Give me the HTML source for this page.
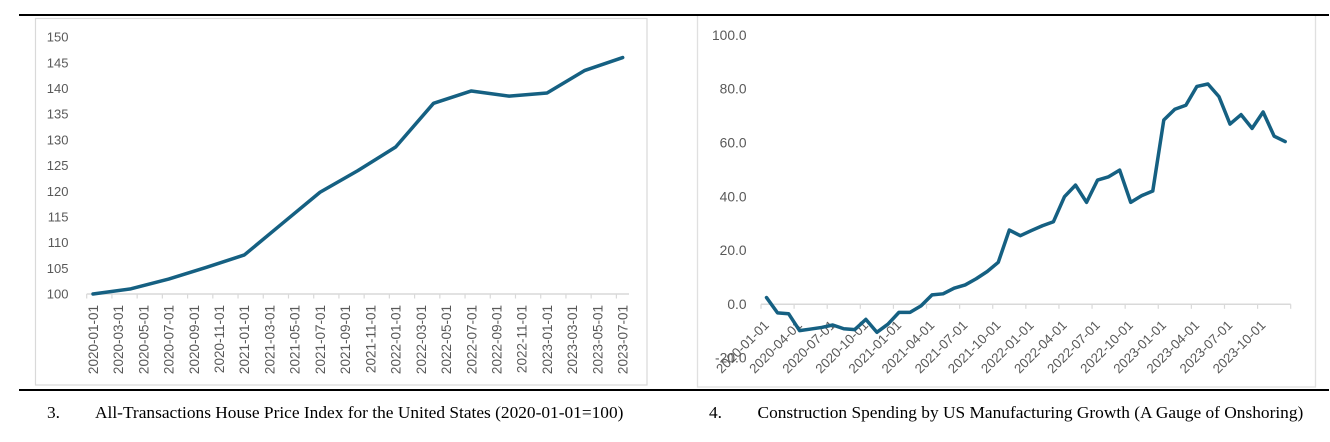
<!DOCTYPE html>
<html lang="en">
<head>
<meta charset="utf-8">
<title>House Price Index and Construction Spending Charts</title>
<style>
html,body{margin:0;padding:0;background:#fff;width:1330px;height:442px;overflow:hidden}
svg{display:block}
.tick{font-family:"Liberation Sans",sans-serif;font-size:13.5px;fill:#595959}
.tick-y1{font-family:"Liberation Sans",sans-serif;font-size:13px;fill:#595959}
.tick2{font-family:"Liberation Sans",sans-serif;font-size:13.8px;fill:#595959}
.tick3{font-family:"Liberation Sans",sans-serif;font-size:13.3px;fill:#595959}
.cap{font-family:"Liberation Serif",serif;font-size:17.35px;fill:#000}
</style>
</head>
<body>
<svg id="figure" xmlns="http://www.w3.org/2000/svg" width="1330" height="442" viewBox="0 0 1330 442">
  <rect x="35.5" y="18.5" width="611.5" height="366.5" fill="#fff" stroke="#d9d9d9" stroke-width="1.2"/>
  <rect x="697.5" y="10" width="618" height="377" fill="#fff" stroke="#e0e0e0" stroke-width="1.3"/>
  <rect x="0" y="0" width="1330" height="14" fill="#fff"/>
  <rect x="19" y="14" width="1310" height="2" fill="#000"/>
  <rect x="19" y="389" width="1310" height="2" fill="#000"/>
  <g id="hpi-chart"></g>
  <g id="construction-chart"></g>
  <text class="cap" x="47" y="418">3.</text>
  <text class="cap" x="95" y="418">All-Transactions House Price Index for the United States (2020-01-01=100)</text>
  <text class="cap" x="709" y="418">4.</text>
  <text class="cap" x="757.5" y="418">Construction Spending by US Manufacturing Growth (A Gauge of Onshoring)</text>
</svg>
<script>
// ---- House price index data (quarterly) ----
const hpiDates = ["2020-01","2020-04","2020-07","2020-10","2021-01","2021-04","2021-07","2021-10","2022-01","2022-04","2022-07","2022-10","2023-01","2023-04","2023-07"];
const hpiValues = [100,101,102.9,105.2,107.6,113.7,119.8,124,128.6,137.1,139.5,138.5,139.1,143.5,146];
const hpiYTicks = [100,105,110,115,120,125,130,135,140,145,150];
const hpiXLabels = ["2020-01-01","2020-03-01","2020-05-01","2020-07-01","2020-09-01","2020-11-01","2021-01-01","2021-03-01","2021-05-01","2021-07-01","2021-09-01","2021-11-01","2022-01-01","2022-03-01","2022-05-01","2022-07-01","2022-09-01","2022-11-01","2023-01-01","2023-03-01","2023-05-01","2023-07-01"];

// ---- Construction spending growth data (monthly, 2020-01 onward) ----
const conValues = [2.5,-3.2,-3.5,-9.8,-9.2,-8.6,-7.7,-9.1,-9.4,-5.6,-10.4,-7.4,-3,-3,-0.6,3.5,3.9,6,7.2,9.5,12.2,15.6,27.6,25.5,27.4,29.2,30.7,40,44.3,37.9,46.2,47.4,49.9,37.9,40.4,42.1,68.5,72.5,74,81,81.9,77.2,67,70.5,65.4,71.5,62.5,60.5];
const conYTicks = [-20,0,20,40,60,80,100];
const conXLabels = ["2020-01-01","2020-04-01","2020-07-01","2020-10-01","2021-01-01","2021-04-01","2021-07-01","2021-10-01","2022-01-01","2022-04-01","2022-07-01","2022-10-01","2023-01-01","2023-04-01","2023-07-01","2023-10-01"];

const NS = "http://www.w3.org/2000/svg";
function monthIndex(s){
  const p = s.split("-");
  return (parseInt(p[0],10)-2020)*12 + parseInt(p[1],10)-1;
}
function make(tag, parent, attrs){
  const el = document.createElementNS(NS, tag);
  for (const k in attrs) el.setAttribute(k, attrs[k]);
  parent.appendChild(el);
  return el;
}
const LINE = "#156082", AXIS = "#d9d9d9";

// ---- Chart 3: house price index ----
(function(){
  const g = document.getElementById("hpi-chart");
  const left = 86.7, right = 629, base = 294, top = 37;
  const nCats = monthIndex(hpiDates[hpiDates.length-1]) + 1;
  const band = (right-left)/nCats;
  const x = i => left + band*(i+0.5);
  const yMin = hpiYTicks[0], yMax = hpiYTicks[hpiYTicks.length-1];
  const y = v => base - (v-yMin)/(yMax-yMin)*(base-top);

  const axis = make("line", g, {x1:left,x2:right,y1:base,y2:base,stroke:AXIS,"stroke-width":1.5});
  
  

  hpiYTicks.forEach(v => {
    const t = make("text", g, {class:"tick-y1",x:68.5,y:y(v)+4.6,"text-anchor":"end"});
    t.textContent = String(v);
    
    
  });
  hpiXLabels.forEach(lbl => {
    const i = monthIndex(lbl);
    const tk = make("line", g, {x1:x(i)-band/2,x2:x(i)-band/2,y1:base,y2:base+4.5,stroke:AXIS,"stroke-width":1.2});
    
    
    const t = make("text", g, {class:"tick","text-anchor":"end",transform:"translate("+(x(i)+4.9)+",305) rotate(-90)"});
    t.textContent = lbl;
    
    
  });
  const pts = hpiDates.map((d,k) => x(monthIndex(d)).toFixed(2)+","+y(hpiValues[k]).toFixed(2)).join(" ");
  const line = make("polyline", g, {points:pts,fill:"none",stroke:LINE,"stroke-width":3.5,"stroke-linejoin":"round","stroke-linecap":"round"});
  
  
})();

// ---- Chart 4: construction spending growth ----
(function(){
  const g = document.getElementById("construction-chart");
  const left = 761, right = 1290.7, zero = 304.3, unit = 2.69;
  const nCats = conValues.length;
  const band = (right-left)/nCats;
  const x = i => left + band*(i+0.5);
  const y = v => zero - v*unit;

  const axis = make("line", g, {x1:left,x2:right,y1:zero,y2:zero,stroke:AXIS,"stroke-width":1.5});
  
  

  conYTicks.forEach(v => {
    const t = make("text", g, {class:"tick2",x:746.5,y:y(v)+4.6,"text-anchor":"end"});
    t.textContent = v.toFixed(1);
    
    
  });
  conXLabels.forEach(lbl => {
    const i = monthIndex(lbl);
    const tk = make("line", g, {x1:x(i)-band/2,x2:x(i)-band/2,y1:zero,y2:zero+4.5,stroke:AXIS,"stroke-width":1.2});
    
    
    const t = make("text", g, {class:"tick3","text-anchor":"end",transform:"translate("+(x(i)+3.2)+",326) rotate(-45)"});
    t.textContent = lbl;
    
    
  });
  const endTick = make("line", g, {x1:right,x2:right,y1:zero,y2:zero+4.5,stroke:AXIS,"stroke-width":1.2});
  
  

  const pts = conValues.map((v,i) => x(i).toFixed(2)+","+y(v).toFixed(2)).join(" ");
  const line = make("polyline", g, {points:pts,fill:"none",stroke:LINE,"stroke-width":3.5,"stroke-linejoin":"round","stroke-linecap":"round"});
  
  
})();
</script>
</body>
</html>
